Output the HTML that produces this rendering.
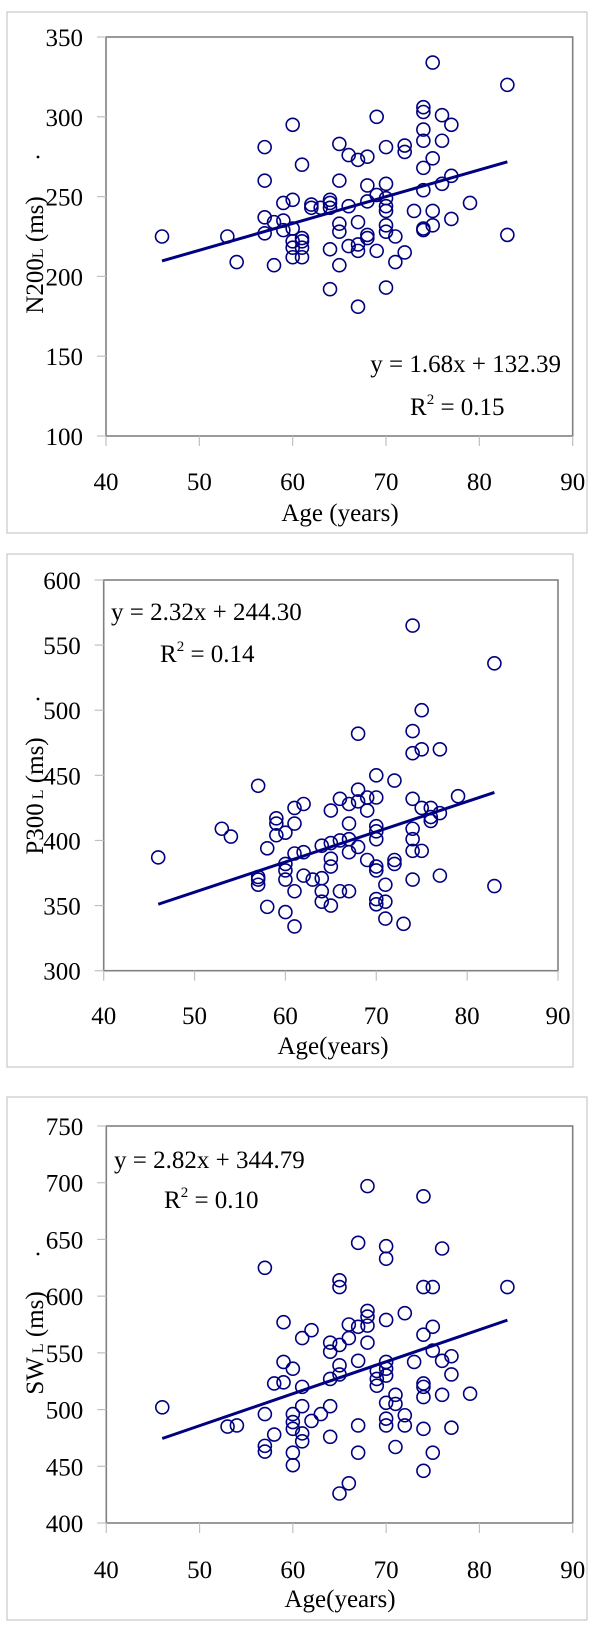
<!DOCTYPE html>
<html><head><meta charset="utf-8">
<style>
html,body{margin:0;padding:0;background:#fff;}
svg{display:block;font-family:"Liberation Serif","DejaVu Serif",serif;}
</style></head>
<body>
<svg id="root" width="600" height="1637" viewBox="0 0 600 1637"></svg>
<script>
// ---- Chart 1: N200L vs Age ----
const ages1 = [46,53,54,57,57,57,57,58,58,59,59,59,60,60,60,60,60,60,61,61,61,61,61,62,62,63,64,64,64,64,64,65,65,65,65,65,66,66,66,67,67,67,67,67,68,68,68,68,68,69,69,69,70,70,70,70,70,70,70,70,71,71,72,72,72,73,74,74,74,74,74,74,74,74,75,75,75,75,76,76,76,77,77,77,79,83,83];
const vals1 = [225,225,209,281,260,237,227,234,207,246,235,229,295,248,230,222,218,212,270,224,222,218,212,245,243,243,248,246,243,217,192,283,260,233,228,207,276,244,219,273,234,220,216,181,275,257,247,226,224,300,251,216,281,258,249,244,241,232,228,193,225,209,282,278,215,241,306,303,292,285,268,254,230,229,334,274,241,232,301,285,258,295,263,236,246,320,226];
const fit1 = [1.68,132.39];
const yTicks1 = [100,150,200,250,300,350];
const xTicks = [40,50,60,70,80,90];

// ---- Chart 2: P300L vs Age ----
const ages2 = [46,53,54,57,57,57,57,58,58,59,59,59,60,60,60,60,60,61,61,61,61,61,62,62,62,63,64,64,64,64,65,65,65,65,65,66,66,66,67,67,67,67,67,68,68,68,68,69,69,69,70,70,70,70,70,70,70,70,70,71,71,71,72,72,72,73,74,74,74,74,74,74,74,74,75,75,75,75,76,76,76,77,77,77,79,83,83];
const vals2 = [387,409,403,442,372,370,366,394,349,417,413,404,406,382,377,370,345,425,413,390,361,334,428,391,373,370,396,371,361,353,423,398,386,380,350,432,400,361,428,413,401,391,361,482,439,430,395,433,423,385,450,433,411,407,401,380,377,355,351,366,353,340,446,385,382,336,565,484,467,432,409,401,392,370,500,470,425,392,425,418,415,470,421,373,434,536,365];
const fit2 = [2.32,244.30];
const yTicks2 = [300,350,400,450,500,550,600];

// ---- Chart 3: SWL vs Age ----
const ages3 = [46,53,54,57,57,57,57,58,58,59,59,59,60,60,60,60,60,60,61,61,61,61,61,62,62,63,64,64,64,64,64,65,65,65,65,65,65,66,66,66,67,67,67,67,67,68,68,68,68,68,69,69,69,70,70,70,70,70,70,70,70,70,71,71,71,72,72,72,73,74,74,74,74,74,74,74,74,75,75,75,75,76,76,76,77,77,77,79,83];
const vals3 = [502,485,486,625,496,468,463,523,478,577,542,524,536,496,489,483,462,451,563,520,503,479,472,570,490,496,559,551,527,503,476,614,608,557,539,531,426,575,563,435,647,573,543,486,462,697,587,582,574,559,534,527,521,644,633,579,542,536,530,506,492,486,513,505,467,585,495,486,542,688,608,566,523,520,511,483,446,608,573,552,462,642,543,513,547,531,484,514,608];
const fit3 = [2.82,344.79];
const yTicks3 = [400,450,500,550,600,650,700,750];

const NS='http://www.w3.org/2000/svg';
const root=document.getElementById('root');
function mk(tag,attrs,parent){const e=document.createElementNS(NS,tag);for(const k in attrs)e.setAttribute(k,attrs[k]);(parent||root).appendChild(e);return e;}

function drawChart(cfg){
  const g=mk('g',{});
  
  
  const frame=mk('rect',{x:cfg.frame[0],y:cfg.frame[1],width:cfg.frame[2],height:cfg.frame[3],fill:'none',stroke:'#c8c8c8','stroke-width':1.2},g);
  
  
  const L=cfg.plot[0],T=cfg.plot[1],R=cfg.plot[2],B=cfg.plot[3];
  const sx=v=>L+(v-40)/(90-40)*(R-L);
  const ymin=cfg.yTicks[0],ymax=cfg.yTicks[cfg.yTicks.length-1];
  const sy=v=>B-(v-ymin)/(ymax-ymin)*(B-T);
  const plot=mk('rect',{x:L,y:T,width:R-L,height:B-T,fill:'none',stroke:'#808080','stroke-width':1.6},g);
  
  
  cfg.yTicks.forEach(t=>{
    const tk=mk('line',{x1:L-9,x2:L,y1:sy(t),y2:sy(t),stroke:'#c0c0c0','stroke-width':1.2},g);
    
    
    const tx=mk('text',{x:L-23,y:sy(t)+9,'font-size':25,'text-anchor':'end',fill:'#000'},g);
    
    
    tx.textContent=t;
  });
  xTicks.forEach(t=>{
    const tk=mk('line',{x1:sx(t),x2:sx(t),y1:B,y2:B+10,stroke:'#c0c0c0','stroke-width':1.2},g);
    
    
    const tx=mk('text',{x:sx(t),y:cfg.xLabelY+9,'font-size':25,'text-anchor':'middle',fill:'#000'},g);
    
    
    tx.textContent=t;
  });
  cfg.ages.forEach((a,i)=>{
    const c=mk('circle',{cx:sx(a),cy:sy(cfg.vals[i]),r:6.5,fill:'none',stroke:'#000080','stroke-width':1.6},g);
    
    
  });
  const x0=46,x1=83;
  const ln=mk('line',{x1:sx(x0),y1:sy(cfg.fit[0]*x0+cfg.fit[1]),x2:sx(x1),y2:sy(cfg.fit[0]*x1+cfg.fit[1]),stroke:'#000080','stroke-width':3},g);
  
  
  const eq=mk('text',{x:cfg.eq[0],y:cfg.eq[1],'font-size':25,'text-anchor':cfg.eq[2],fill:'#000'},g);
  
  
  eq.textContent='y = '+cfg.fit[0].toFixed(2)+'x + '+cfg.fit[1].toFixed(2);
  const r2=mk('text',{x:cfg.r2[0],y:cfg.r2[1],'font-size':25,fill:'#000'},g);
  
  
  r2.innerHTML='R<tspan font-size="15" dy="-11">2</tspan><tspan dy="11"> = '+cfg.r2txt+'</tspan>';
  const xt=mk('text',{x:cfg.xTitle[0],y:cfg.xTitle[1]+9,'font-size':25,'text-anchor':'middle',fill:'#000'},g);
  
  
  xt.textContent=cfg.xTitleTxt;
  const yt=mk('text',{transform:'translate('+(cfg.yTitle[0]+9)+','+cfg.yTitle[1]+') rotate(-90)','font-size':25,'text-anchor':'middle',fill:'#000'},g);
  
  
  yt.innerHTML=cfg.yTitleHtml;
  const dot=mk('circle',{cx:38,cy:cfg.dotY,r:1.4,fill:'#000'},g);
  
  
}

drawChart({name:'n200-chart',frame:[7,12,580,521],plot:[106,37,572.7,436],yTicks:yTicks1,ages:ages1,vals:vals1,fit:fit1,
  xLabelY:481,eq:[561,372,'end'],r2:[410,415],r2txt:'0.15',xTitle:[340,512],xTitleTxt:'Age (years)',
  yTitle:[34,255],yTitleHtml:'N200<tspan font-size="16">L</tspan> (ms)',dotY:157});
drawChart({name:'p300-chart',frame:[7,554,566,513],plot:[103.7,580,558,970.7],yTicks:yTicks2,ages:ages2,vals:vals2,fit:fit2,
  xLabelY:1015,eq:[111,620,'start'],r2:[160,662],r2txt:'0.14',xTitle:[333,1045],xTitleTxt:'Age(years)',
  yTitle:[34,796],yTitleHtml:'P300<tspan font-size="16"> L</tspan> (ms)',dotY:699});
drawChart({name:'sw-chart',frame:[7,1097,580,523],plot:[106.3,1126,572.7,1523],yTicks:yTicks3,ages:ages3,vals:vals3,fit:fit3,
  xLabelY:1569,eq:[114,1168,'start'],r2:[164,1208],r2txt:'0.10',xTitle:[340,1598],xTitleTxt:'Age(years)',
  yTitle:[34,1343],yTitleHtml:'SW<tspan font-size="16"> L</tspan> (ms)',dotY:1254});
</script>
</body></html>
